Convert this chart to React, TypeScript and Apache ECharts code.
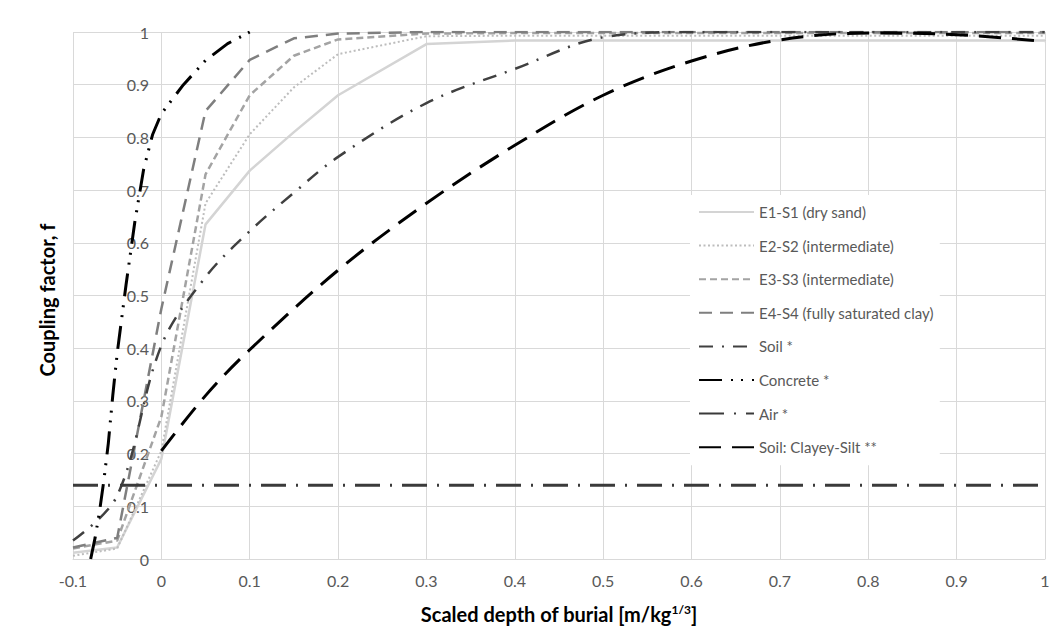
import React, { useEffect, useRef } from "react";
import * as echarts from "echarts";

// Scaled depth of burial [m/kg^1/3] sample points
const X_E = [-0.1, -0.05, 0, 0.05, 0.1, 0.15, 0.2, 0.3, 0.4, 0.5, 0.6, 0.7, 0.8, 0.9, 1];
const E1_S1 = [0.012, 0.022, 0.19, 0.635, 0.737, 0.81, 0.88, 0.977, 0.984, 0.984, 0.984, 0.984, 0.984, 0.984, 0.984];
const E2_S2 = [0.006, 0.02, 0.205, 0.675, 0.806, 0.895, 0.958, 0.992, 0.993, 0.993, 0.993, 0.993, 0.993, 0.993, 0.993];
const E3_S3 = [0.02, 0.035, 0.27, 0.73, 0.88, 0.955, 0.986, 0.997, 0.998, 0.998, 0.998, 0.998, 0.998, 0.998, 0.998];
const E4_S4 = [0.022, 0.04, 0.475, 0.85, 0.947, 0.988, 0.997, 1, 1, 1, 1, 1, 1, 1, 1];
const SOIL = [0.035, 0.12, 0.405, 0.535, 0.622, 0.695, 0.763, 0.865, 0.93, 0.99, 1, 1, 1, 1, 1];

const X_CONCRETE = [-0.08, -0.075, -0.07, -0.065, -0.06, -0.055, -0.05, -0.04, -0.03, -0.02, -0.01, 0, 0.025, 0.05, 0.075, 0.1];
const CONCRETE = [0, 0.04, 0.09, 0.15, 0.22, 0.31, 0.39, 0.52, 0.64, 0.74, 0.805, 0.845, 0.9, 0.946, 0.978, 1];

const X_AIR = [-0.1, 1];
const AIR = [0.14, 0.14];

const X_CLAYEY = [0, 0.05, 0.1, 0.2, 0.3, 0.4, 0.5, 0.6, 0.7, 0.8, 0.9, 1];
const CLAYEY_SILT = [0.205, 0.31, 0.397, 0.548, 0.675, 0.785, 0.88, 0.945, 0.985, 0.998, 0.995, 0.982];

const X_TICKS = { min: -0.1, max: 1, interval: 0.1 };
const Y_TICKS = { min: 0, max: 1, interval: 0.1 };

const FONT = "Lato, 'Noto Sans', sans-serif";

const pairs = (xs: number[], ys: number[]) => xs.map((x, i) => [x, ys[i]]);

export default function App() {
  const ref = useRef<HTMLDivElement>(null);

  useEffect(() => {
    if (!ref.current) return;
    const chart = echarts.init(ref.current, null, { renderer: "svg" });

    const line = (
      name: string,
      data: number[][],
      color: string,
      width: number,
      type: any,
      smooth: number | boolean = false
    ) => ({
      name,
      type: "line",
      data,
      symbol: "none",
      smooth,
      lineStyle: { color, width, type, cap: "butt" },
      itemStyle: { color, opacity: 0 },
      emphasis: { disabled: true },
    });

    chart.setOption({
      animation: false,
      backgroundColor: "#ffffff",
      grid: { left: 73, right: 15, top: 32, bottom: 73, containLabel: false },
      legend: {
        orient: "vertical",
        left: 690,
        top: 195,
        padding: [9, 6, 10, 8],
        backgroundColor: "#ffffff",
        itemWidth: 55,
        itemHeight: 14,
        itemGap: 17.6,
        itemStyle: { opacity: 0 },
        textStyle: { color: "#595959", fontSize: 15, lineHeight: 16, fontFamily: FONT },
        data: [
          "E1-S1 (dry sand)",
          "E2-S2 (intermediate)",
          "E3-S3 (intermediate)",
          "E4-S4 (fully saturated clay)",
          "Soil *",
          "Concrete *",
          "Air *",
          "Soil: Clayey-Silt **",
        ],
      },
      xAxis: {
        type: "value",
        min: X_TICKS.min,
        max: X_TICKS.max,
        interval: X_TICKS.interval,
        axisLine: { show: true, lineStyle: { color: "#d9d9d9", width: 1 } },
        axisTick: { show: false },
        splitLine: { show: true, lineStyle: { color: "#d9d9d9", width: 1 } },
        axisLabel: {
          color: "#595959",
          fontSize: 16,
          fontFamily: FONT,
          margin: 13,
          formatter: (v: number) => String(Math.round(v * 10) / 10),
        },
        name: "{b|Scaled depth of burial [m/kg}{s|1/3}{b|]}",
        nameLocation: "middle",
        nameGap: 43,
        nameTextStyle: {
          rich: {
            b: { fontWeight: "bold", fontSize: 20, lineHeight: 24, color: "#000000", fontFamily: FONT },
            s: {
              fontWeight: "bold",
              fontSize: 12,
              lineHeight: 12,
              color: "#000000",
              fontFamily: FONT,
              verticalAlign: "bottom",
              padding: [0, 0, 11, 0],
            },
          },
        },
      },
      yAxis: {
        type: "value",
        min: Y_TICKS.min,
        max: Y_TICKS.max,
        interval: Y_TICKS.interval,
        axisLine: { show: false },
        axisTick: { show: false },
        splitLine: { show: true, lineStyle: { color: "#d9d9d9", width: 1 } },
        // labels sit just left of the x = 0 line, inside the plotting area
        axisLabel: {
          color: "#595959",
          fontSize: 16,
          fontFamily: FONT,
          margin: -76,
          formatter: (v: number) => String(Math.round(v * 10) / 10),
        },
      },
      graphic: [
        {
          type: "text",
          x: 47,
          y: 300,
          rotation: Math.PI / 2,
          style: {
            text: "Coupling factor, f",
            font: `bold 20px ${FONT}`,
            fill: "#000000",
            align: "center",
            verticalAlign: "middle",
          },
        },
      ],
      series: [
        line("E1-S1 (dry sand)", pairs(X_E, E1_S1), "#d4d4d4", 2.5, "solid"),
        line("E2-S2 (intermediate)", pairs(X_E, E2_S2), "#bdbdbd", 2, [2, 2.5]),
        line("E3-S3 (intermediate)", pairs(X_E, E3_S3), "#a3a3a3", 2.5, [7, 4]),
        line("E4-S4 (fully saturated clay)", pairs(X_E, E4_S4), "#7f7f7f", 2.5, [13, 8]),
        line("Soil *", pairs(X_E, SOIL), "#404040", 2.5, [14, 9, 2, 9], 0.35),
        line("Concrete *", pairs(X_CONCRETE, CONCRETE), "#000000", 3, [23, 9, 2, 8, 2, 9]),
        line("Air *", pairs(X_AIR, AIR), "#3a3a3a", 3, [25, 10, 2, 10]),
        line("Soil: Clayey-Silt **", pairs(X_CLAYEY, CLAYEY_SILT), "#000000", 3, [22, 11], 0.35),
      ],
    });

    return () => chart.dispose();
  }, []);

  return (
    <div
      ref={ref}
      style={{ position: "fixed", left: 0, top: 0, width: 1060, height: 632, background: "#ffffff" }}
    />
  );
}
